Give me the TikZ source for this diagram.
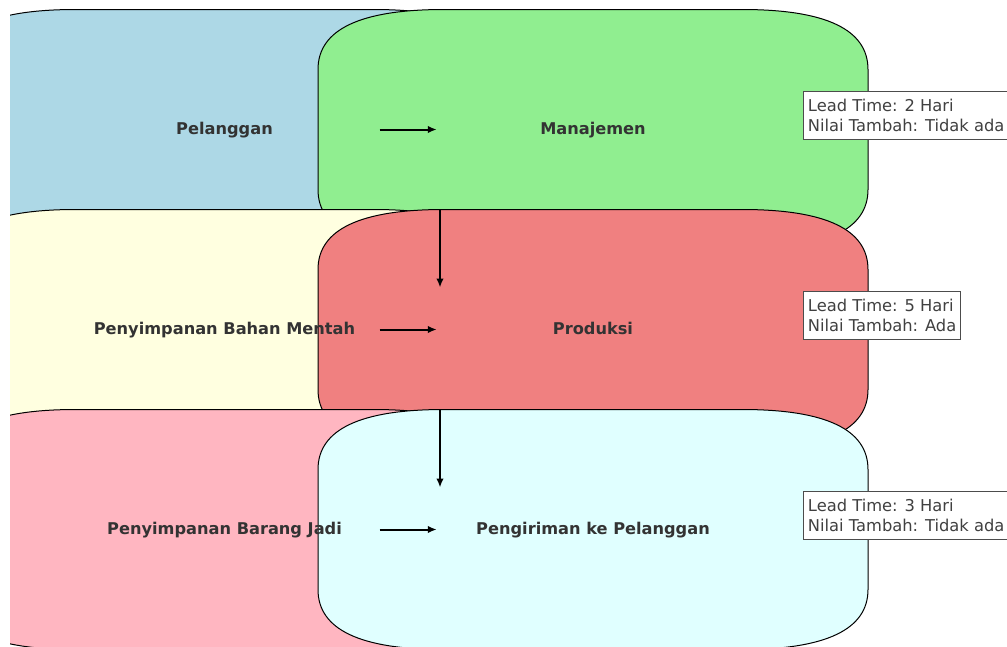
\documentclass[tikz,border=0pt]{standalone}
\usepackage{fontspec}
\setmainfont{DejaVu Sans}
\usetikzlibrary{arrows.meta,calc}
\definecolor{LaneBlue}{HTML}{ADD8E6}
\definecolor{LaneGreen}{HTML}{90EE90}
\definecolor{LaneYellow}{HTML}{FFFFE0}
\definecolor{LaneCoral}{HTML}{F08080}
\definecolor{LanePink}{HTML}{FFB6C1}
\definecolor{LaneCyan}{HTML}{E0FFFF}
\definecolor{Ink}{HTML}{333333}
\newcommand{\swimlane}[4]{%
  \node[lanebox] (#1) at (#2,#3) {};
  \draw[laneedge,fill=#4]
    ($(#1.north west)+(0,60)$) .. controls ($(#1.north west)+(0,20)$) and ($(#1.north west)+(42,0)$) .. ($(#1.north west)+(126,0)$)
    -- ($(#1.north east)+(-126,0)$) .. controls ($(#1.north east)+(-42,0)$) and ($(#1.north east)+(0,20)$) .. ($(#1.north east)+(0,60)$)
    -- ($(#1.south east)+(0,-60)$) .. controls ($(#1.south east)+(0,-20)$) and ($(#1.south east)+(-42,0)$) .. ($(#1.south east)+(-126,0)$)
    -- ($(#1.south west)+(126,0)$) .. controls ($(#1.south west)+(42,0)$) and ($(#1.south west)+(0,-20)$) .. ($(#1.south west)+(0,-60)$)
    -- cycle;
}
\tikzset{
  lanebox/.style={rectangle,minimum width=550pt,minimum height=240pt,inner sep=0pt,outer sep=0pt},
  laneedge/.style={draw=black,line width=1pt},
  lanelabel/.style={font={\fontsize{16.2pt}{19pt}\selectfont\bfseries},text=Ink,text height=0.76em,text depth=0.24em,inner sep=0pt,yshift=-2pt},
  infobox/.style={draw=black!70,fill=white,line width=0.9pt,anchor=west,align=left,inner xsep=4.5pt,inner ysep=7.5pt,font={\fontsize{16.3pt}{20pt}\selectfont},text=black!75},
  line/.style={-{Latex[length=9pt,width=7.5pt]},draw=black,line width=2pt}
}

\begin{document}
\begin{tikzpicture}[x=1pt,y=-1pt]
  \useasboundingbox (0,0) rectangle (1007,646);
  \begin{scope}
    \clip (10,9.5) rectangle (1007,646);
    \swimlane{pel}{224.5}{129.5}{LaneBlue}
    \swimlane{man}{593}{129.5}{LaneGreen}
    \swimlane{bhn}{224.5}{329.5}{LaneYellow}
    \swimlane{prd}{593}{329.5}{LaneCoral}
    \swimlane{brg}{224.5}{529.5}{LanePink}
    \swimlane{kirim}{593}{529.5}{LaneCyan}
  \end{scope}

  \node[lanelabel] (pelT) at (pel.center) {Pelanggan};
  \node[lanelabel] (manT) at (man.center) {Manajemen};
  \node[lanelabel] (bhnT) at (bhn.center) {Penyimpanan Bahan Mentah};
  \node[lanelabel] (prdT) at (prd.center) {Produksi};
  \node[lanelabel] (brgT) at (brg.center) {Penyimpanan Barang Jadi};
  \node[lanelabel] (kirimT) at (kirim.center) {Pengiriman ke Pelanggan};

  \draw[line] ($(pel.center)!0.421!(man.center)$) -- ($(pel.center)!0.576!(man.center)$);
  \draw[line] ($(bhn.center)!0.421!(prd.center)$) -- ($(bhn.center)!0.576!(prd.center)$);
  \draw[line] ($(brg.center)!0.421!(kirim.center)$) -- ($(brg.center)!0.576!(kirim.center)$);
  \draw[line] ($(man.south west)+(122,-40)$) -- ($(prd.north west)+(122,78)$);
  \draw[line] ($(prd.south west)+(122,-40)$) -- ($(kirim.north west)+(122,78)$);

  \node[infobox] (manInfo) at ($(man.east)+(-65,-14)$) {Lead Time: 2 Hari\\Nilai Tambah: Tidak ada};
  \node[infobox] (prdInfo) at ($(prd.east)+(-65,-14)$) {Lead Time: 5 Hari\\Nilai Tambah: Ada};
  \node[infobox] (kirimInfo) at ($(kirim.east)+(-65,-14)$) {Lead Time: 3 Hari\\Nilai Tambah: Tidak ada};
\end{tikzpicture}
\end{document}
